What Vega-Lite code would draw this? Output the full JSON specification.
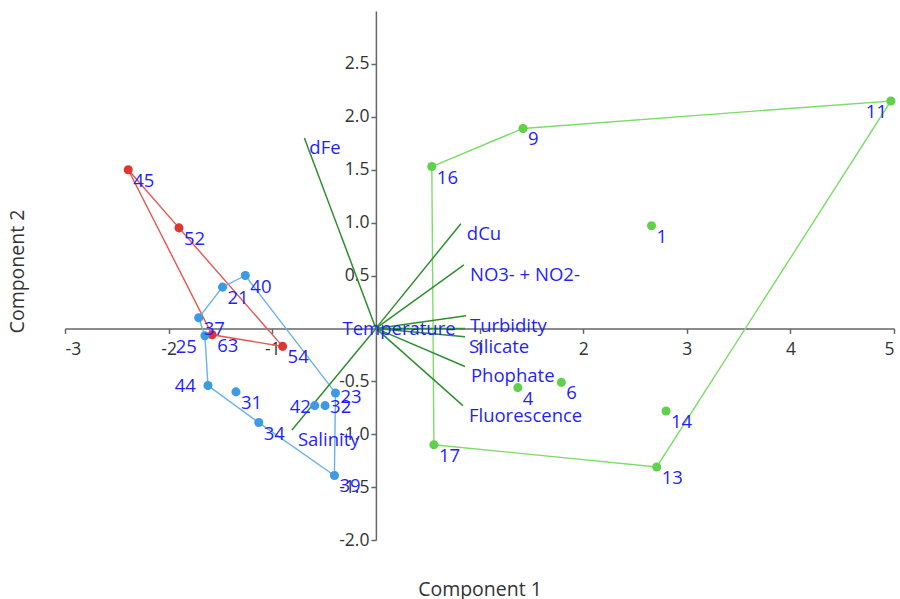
{
  "$schema": "https://vega.github.io/schema/vega-lite/v6.json",
  "autosize": {"type": "none"},
  "padding": {"left": 65, "top": 11, "right": 6, "bottom": 59},
  "width": 829,
  "height": 529,
  "background": "white",
  "config": {"view": {"stroke": null}, "font": "Open Sans"},
  "datasets": {
    "points": [
      {"id": "45", "g": "r", "x": -2.39, "y": 1.50, "lx": -2.39, "ly": 1.50},
      {"id": "52", "g": "r", "x": -1.90, "y": 0.95, "lx": -1.90, "ly": 0.95},
      {"id": "63", "g": "r", "x": -1.58, "y": -0.06, "lx": -1.58, "ly": -0.06},
      {"id": "54", "g": "r", "x": -0.90, "y": -0.17, "lx": -0.90, "ly": -0.17},
      {"id": "40", "g": "b", "x": -1.26, "y": 0.50, "lx": -1.26, "ly": 0.50},
      {"id": "21", "g": "b", "x": -1.48, "y": 0.39, "lx": -1.48, "ly": 0.39},
      {"id": "37", "g": "b", "x": -1.71, "y": 0.10, "lx": -1.71, "ly": 0.10},
      {"id": "25", "g": "b", "x": -1.65, "y": -0.07, "lx": -1.98, "ly": -0.07},
      {"id": "44", "g": "b", "x": -1.62, "y": -0.54, "lx": -1.99, "ly": -0.44},
      {"id": "31", "g": "b", "x": -1.35, "y": -0.60, "lx": -1.35, "ly": -0.60},
      {"id": "34", "g": "b", "x": -1.13, "y": -0.89, "lx": -1.13, "ly": -0.89},
      {"id": "42", "g": "b", "x": -0.59, "y": -0.73, "lx": -0.88, "ly": -0.64},
      {"id": "32", "g": "b", "x": -0.49, "y": -0.73, "lx": -0.49, "ly": -0.64},
      {"id": "23", "g": "b", "x": -0.39, "y": -0.61, "lx": -0.39, "ly": -0.54},
      {"id": "39", "g": "b", "x": -0.40, "y": -1.39, "lx": -0.40, "ly": -1.39},
      {"id": "11", "g": "g", "x": 4.97, "y": 2.15, "lx": 4.68, "ly": 2.15},
      {"id": "9", "g": "g", "x": 1.42, "y": 1.89, "lx": 1.42, "ly": 1.89},
      {"id": "16", "g": "g", "x": 0.54, "y": 1.53, "lx": 0.54, "ly": 1.53},
      {"id": "1", "g": "g", "x": 2.66, "y": 0.97, "lx": 2.66, "ly": 0.97},
      {"id": "6", "g": "g", "x": 1.79, "y": -0.51, "lx": 1.79, "ly": -0.51},
      {"id": "4", "g": "g", "x": 1.37, "y": -0.56, "lx": 1.37, "ly": -0.56},
      {"id": "14", "g": "g", "x": 2.80, "y": -0.78, "lx": 2.80, "ly": -0.78},
      {"id": "13", "g": "g", "x": 2.71, "y": -1.31, "lx": 2.71, "ly": -1.31},
      {"id": "17", "g": "g", "x": 0.56, "y": -1.10, "lx": 0.56, "ly": -1.10}
    ],
    "hull": [
      {"g": "r", "ord": 1, "x": -2.39, "y": 1.50},
      {"g": "r", "ord": 2, "x": -1.90, "y": 0.95},
      {"g": "r", "ord": 3, "x": -0.90, "y": -0.17},
      {"g": "r", "ord": 4, "x": -1.58, "y": -0.06},
      {"g": "r", "ord": 5, "x": -2.39, "y": 1.50},
      {"g": "b", "ord": 1, "x": -1.26, "y": 0.50},
      {"g": "b", "ord": 2, "x": -0.39, "y": -0.61},
      {"g": "b", "ord": 3, "x": -0.40, "y": -1.39},
      {"g": "b", "ord": 4, "x": -1.13, "y": -0.89},
      {"g": "b", "ord": 5, "x": -1.62, "y": -0.54},
      {"g": "b", "ord": 6, "x": -1.65, "y": -0.07},
      {"g": "b", "ord": 7, "x": -1.71, "y": 0.10},
      {"g": "b", "ord": 8, "x": -1.48, "y": 0.39},
      {"g": "b", "ord": 9, "x": -1.26, "y": 0.50},
      {"g": "g", "ord": 1, "x": 0.54, "y": 1.53},
      {"g": "g", "ord": 2, "x": 1.42, "y": 1.89},
      {"g": "g", "ord": 3, "x": 4.97, "y": 2.15},
      {"g": "g", "ord": 4, "x": 2.71, "y": -1.31},
      {"g": "g", "ord": 5, "x": 0.56, "y": -1.10},
      {"g": "g", "ord": 6, "x": 0.54, "y": 1.53}
    ],
    "vectors": [
      {"v": "dFe", "x": -0.69, "y": 1.80, "lx": -0.70, "ly": 1.80},
      {"v": "dCu", "x": 0.82, "y": 0.99, "lx": 0.82, "ly": 0.99},
      {"v": "NO3- + NO2-", "x": 0.85, "y": 0.60, "lx": 0.85, "ly": 0.60},
      {"v": "Turbidity", "x": 0.87, "y": 0.12, "lx": 0.85, "ly": 0.12},
      {"v": "Temperature", "x": 0.86, "y": 0.00, "lx": -0.38, "ly": 0.09},
      {"v": "Silicate", "x": 0.86, "y": -0.08, "lx": 0.84, "ly": -0.08},
      {"v": "Phophate", "x": 0.86, "y": -0.36, "lx": 0.86, "ly": -0.36},
      {"v": "Fluorescence", "x": 0.84, "y": -0.73, "lx": 0.84, "ly": -0.73},
      {"v": "Salinity", "x": -0.81, "y": -0.96, "lx": -0.81, "ly": -0.96}
    ]
  },
  "encoding": {
    "x": {"field": "x", "type": "quantitative",
      "scale": {"domain": [-3, 5], "nice": false, "zero": false},
      "axis": {"title": "Component 1", "offset": -211.6, "grid": false,
        "values": [-3, -2, -1, 1, 2, 3, 4, 5], "format": "d",
        "labelExpr": "replace(datum.label, '\u2212', '-')",
        "domainColor": "#666", "domainWidth": 1.5, "tickColor": "#666", "tickWidth": 1.5, "tickSize": 5,
        "labelFontSize": 17.5, "labelColor": "#333", "labelPadding": 7,
        "titleFontSize": 19.5, "titleFontWeight": "normal", "titleColor": "#333",
        "titleBaseline": "middle", "titleY": 261}},
    "y": {"field": "y", "type": "quantitative",
      "scale": {"domain": [-2, 3], "nice": false, "zero": false},
      "axis": {"title": "Component 2", "offset": -310.9, "grid": false,
        "values": [-2, -1.5, -1, -0.5, 0.5, 1, 1.5, 2, 2.5], "format": ".1f",
        "labelExpr": "replace(datum.label, '\u2212', '-')",
        "domainColor": "#666", "domainWidth": 1.5, "tickColor": "#666", "tickWidth": 1.5, "tickSize": 5,
        "labelFontSize": 17.5, "labelColor": "#333", "labelPadding": 2,
        "titleFontSize": 19.5, "titleFontWeight": "normal", "titleColor": "#333",
        "titleBaseline": "middle", "titleX": -358, "titleY": 260}}
  },
  "layer": [
    {
      "data": {"name": "hull"},
      "mark": {"type": "line", "strokeWidth": 1.4},
      "encoding": {
        "color": {"field": "g", "type": "nominal", "legend": null,
          "scale": {"domain": ["r", "b", "g"], "range": ["#e8554e", "#68b2ea", "#7ddc69"]}},
        "order": {"field": "ord", "type": "quantitative"}
      }
    },
    {
      "data": {"name": "vectors"},
      "mark": {"type": "rule", "color": "#2f8f2f", "strokeWidth": 1.5},
      "encoding": {"x2": {"datum": 0}, "y2": {"datum": 0}}
    },
    {
      "data": {"name": "points"},
      "mark": {"type": "circle", "opacity": 1, "size": 82},
      "encoding": {
        "color": {"field": "g", "type": "nominal", "legend": null,
          "scale": {"domain": ["r", "b", "g"], "range": ["#e0362d", "#3d9be3", "#5fd14b"]}}
      }
    },
    {
      "data": {"name": "points"},
      "mark": {"type": "text", "align": "left", "baseline": "middle", "dx": 5, "dy": 11, "fontSize": 18.5, "color": "#1f1fff"},
      "encoding": {
        "x": {"field": "lx", "type": "quantitative"},
        "y": {"field": "ly", "type": "quantitative"},
        "text": {"field": "id"}
      }
    },
    {
      "data": {"name": "vectors"},
      "mark": {"type": "text", "align": "left", "baseline": "middle", "dx": 6, "dy": 10, "fontSize": 18.5, "color": "#1f1fff"},
      "encoding": {
        "x": {"field": "lx", "type": "quantitative"},
        "y": {"field": "ly", "type": "quantitative"},
        "text": {"field": "v"}
      }
    }
  ],
  "resolve": {"scale": {"color": "independent"}}
}
